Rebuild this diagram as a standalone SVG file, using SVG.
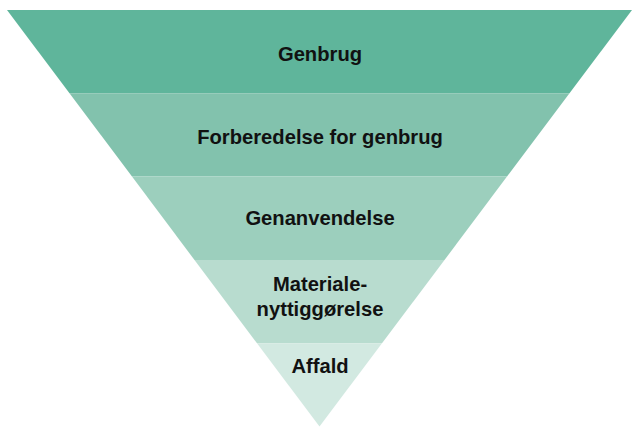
<svg xmlns="http://www.w3.org/2000/svg" width="632" height="428" viewBox="0 0 632 428">
<style>
text{font-family:"Liberation Sans",Arial,sans-serif;font-weight:bold;font-size:20.2px;fill:#111;text-anchor:middle}
</style>
<rect width="632" height="428" fill="#fff"/>
<g id="genbrug"><polygon points="7,10 632,10 569.5,93.3 69.5,93.3" fill="#5fb59b"/><text x="320" y="61">Genbrug</text></g>
<g id="forberedelse"><polygon points="69.5,93.3 569.5,93.3 507,176.6 132,176.6" fill="#82c2ad"/><text x="320" y="144">Forberedelse for genbrug</text></g>
<g id="genanvendelse"><polygon points="132,176.6 507,176.6 444.5,260 194.5,260" fill="#9ccfbd"/><text x="320" y="225">Genanvendelse</text></g>
<g id="materiale"><polygon points="194.5,260 444.5,260 382,343.3 257,343.3" fill="#b8dccf"/><text x="320" y="291">Materiale-</text><text x="320" y="316">nyttiggørelse</text></g>
<g id="affald"><polygon points="257,343.3 382,343.3 319.5,426.6" fill="#d2e9e1"/><text x="320" y="373">Affald</text></g>
<g id="connectors"/>
</svg>
